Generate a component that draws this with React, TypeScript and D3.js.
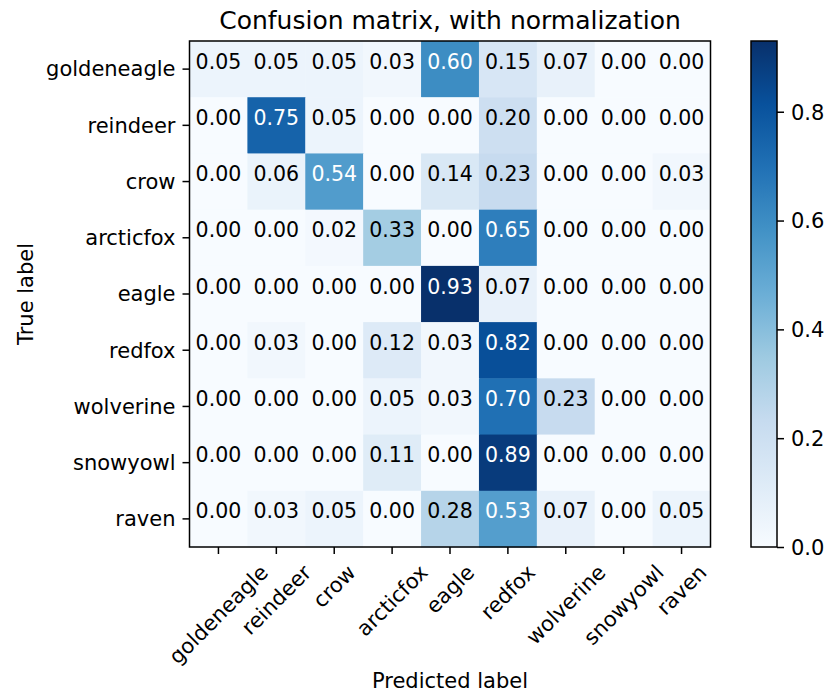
import { useEffect, useRef } from 'react'
import * as d3 from 'd3'

const CLASSES = ['goldeneagle', 'reindeer', 'crow', 'arcticfox', 'eagle', 'redfox', 'wolverine', 'snowyowl', 'raven']

// rows = true label, columns = predicted label
const ROW_GOLDENEAGLE = [0.05, 0.05, 0.05, 0.03, 0.6, 0.15, 0.07, 0.0, 0.0]
const ROW_REINDEER = [0.0, 0.75, 0.05, 0.0, 0.0, 0.2, 0.0, 0.0, 0.0]
const ROW_CROW = [0.0, 0.06, 0.54, 0.0, 0.14, 0.23, 0.0, 0.0, 0.03]
const ROW_ARCTICFOX = [0.0, 0.0, 0.02, 0.33, 0.0, 0.65, 0.0, 0.0, 0.0]
const ROW_EAGLE = [0.0, 0.0, 0.0, 0.0, 0.93, 0.07, 0.0, 0.0, 0.0]
const ROW_REDFOX = [0.0, 0.03, 0.0, 0.12, 0.03, 0.82, 0.0, 0.0, 0.0]
const ROW_WOLVERINE = [0.0, 0.0, 0.0, 0.05, 0.03, 0.7, 0.23, 0.0, 0.0]
const ROW_SNOWYOWL = [0.0, 0.0, 0.0, 0.11, 0.0, 0.89, 0.0, 0.0, 0.0]
const ROW_RAVEN = [0.0, 0.03, 0.05, 0.0, 0.28, 0.53, 0.07, 0.0, 0.05]

const MATRIX = [
  ROW_GOLDENEAGLE, ROW_REINDEER, ROW_CROW, ROW_ARCTICFOX, ROW_EAGLE,
  ROW_REDFOX, ROW_WOLVERINE, ROW_SNOWYOWL, ROW_RAVEN,
]

const COLORBAR_TICKS = [0, 0.2, 0.4, 0.6, 0.8]
const VMAX = 0.93

// matplotlib "Blues"
const BLUES = ['#f7fbff', '#deebf7', '#c6dbef', '#9ecae1', '#6baed6', '#4292c6', '#2171b5', '#08519c', '#08306b']

const FONT = '"DejaVu Sans", sans-serif'
const FS = 21
const CELL_FS = 20.5

export default function App() {
  const ref = useRef<SVGSVGElement>(null)

  useEffect(() => {
    if (!ref.current) return
    const svg = d3.select(ref.current)
    svg.selectAll('*').remove()

    const left = 189.5, right = 710.5, top = 41, bottom = 547
    const x = d3.scaleBand().domain(CLASSES).range([left, right])
    const y = d3.scaleBand().domain(CLASSES).range([top, bottom])
    const color = d3
      .scaleLinear<string>()
      .domain(BLUES.map((_, i) => (i / (BLUES.length - 1)) * VMAX))
      .range(BLUES)
      .interpolate(d3.interpolateRgb)
      .clamp(true)

    const cells = MATRIX.flatMap((row, i) =>
      row.map((v, j) => ({ t: CLASSES[i], p: CLASSES[j], v }))
    )

    svg.append('g')
      .selectAll('rect')
      .data(cells)
      .enter()
      .append('rect')
      .attr('x', (d) => x(d.p)!)
      .attr('y', (d) => y(d.t)!)
      .attr('width', x.bandwidth() + 0.5)
      .attr('height', y.bandwidth() + 0.5)
      .attr('fill', (d) => color(d.v))

    const thresh = VMAX / 2
    svg.append('g')
      .selectAll('text')
      .data(cells)
      .enter()
      .append('text')
      .attr('x', (d) => x(d.p)! + x.bandwidth() / 2)
      .attr('y', (d) => y(d.t)! + y.bandwidth() / 2 - 0.5)
      .attr('text-anchor', 'middle')
      .attr('font-family', FONT)
      .attr('font-size', CELL_FS)
      .attr('fill', (d) => (d.v > thresh ? '#ffffff' : '#000000'))
      .text((d) => d.v.toFixed(2))

    svg.append('rect')
      .attr('x', left).attr('y', top)
      .attr('width', right - left).attr('height', bottom - top)
      .attr('fill', 'none').attr('stroke', '#000').attr('stroke-width', 1.5)

    // y axis
    const yAxis = svg.append('g')
      .attr('transform', `translate(${left},0)`)
      .call(d3.axisLeft(y).tickSize(7).tickPadding(7))
    yAxis.select('.domain').remove()
    yAxis.selectAll('.tick line').attr('stroke', '#000').attr('stroke-width', 1.5)
    yAxis.selectAll('.tick text')
      .attr('font-family', FONT).attr('font-size', FS).attr('fill', '#000')
      .attr('dy', '0.35em')

    // x axis, labels rotated 45deg and centred on the tick
    const xAxis = svg.append('g')
      .attr('transform', `translate(0,${bottom})`)
      .call(d3.axisBottom(x).tickSize(7))
    xAxis.select('.domain').remove()
    xAxis.selectAll('.tick line').attr('stroke', '#000').attr('stroke-width', 1.5)
    xAxis.selectAll<SVGTextElement, string>('.tick text')
      .attr('font-family', FONT).attr('font-size', FS).attr('fill', '#000')
      .attr('text-anchor', 'middle')
      .attr('dy', null)
      .each(function () {
        const w = this.getComputedTextLength()
        const h = FS * 1.164
        const half = (w + h) / (2 * Math.SQRT2)
        d3.select(this)
          .attr('y', FS * 0.346)
          .attr('transform', `translate(0,${13 + half}) rotate(-45)`)
      })

    // colorbar
    const cbLeft = 751, cbRight = 777
    const grad = svg.append('defs').append('linearGradient')
      .attr('id', 'cb-grad')
      .attr('x1', 0).attr('y1', 1).attr('x2', 0).attr('y2', 0)
    BLUES.forEach((c, i) => {
      grad.append('stop').attr('offset', i / (BLUES.length - 1)).attr('stop-color', c)
    })
    svg.append('rect')
      .attr('x', cbLeft).attr('y', top)
      .attr('width', cbRight - cbLeft).attr('height', bottom - top)
      .attr('fill', 'url(#cb-grad)')
      .attr('stroke', '#000').attr('stroke-width', 1.5)

    const cbScale = d3.scaleLinear().domain([0, VMAX]).range([bottom, top])
    const cbAxis = svg.append('g')
      .attr('transform', `translate(${cbRight},0)`)
      .call(
        d3.axisRight(cbScale)
          .tickValues(COLORBAR_TICKS)
          .tickFormat(d3.format('.1f'))
          .tickSize(7)
          .tickPadding(7)
      )
    cbAxis.select('.domain').remove()
    cbAxis.selectAll('.tick line').attr('stroke', '#000').attr('stroke-width', 1.5)
    cbAxis.selectAll('.tick text')
      .attr('font-family', FONT).attr('font-size', FS).attr('fill', '#000')
      .attr('dy', '0.35em')

    // titles
    svg.append('text')
      .attr('x', (left + right) / 2).attr('y', 29)
      .attr('text-anchor', 'middle')
      .attr('font-family', FONT).attr('font-size', 25)
      .text('Confusion matrix, with normalization')

    svg.append('text')
      .attr('x', (left + right) / 2).attr('y', 688)
      .attr('text-anchor', 'middle')
      .attr('font-family', FONT).attr('font-size', FS)
      .text('Predicted label')

    svg.append('text')
      .attr('transform', `translate(33,${(top + bottom) / 2}) rotate(-90)`)
      .attr('text-anchor', 'middle')
      .attr('font-family', FONT).attr('font-size', FS)
      .text('True label')

    return () => { svg.selectAll('*').remove() }
  }, [])

  return (
    <svg
      ref={ref}
      width={827}
      height={693}
      style={{ position: 'absolute', left: 0, top: 0, background: '#fff' }}
    />
  )
}
